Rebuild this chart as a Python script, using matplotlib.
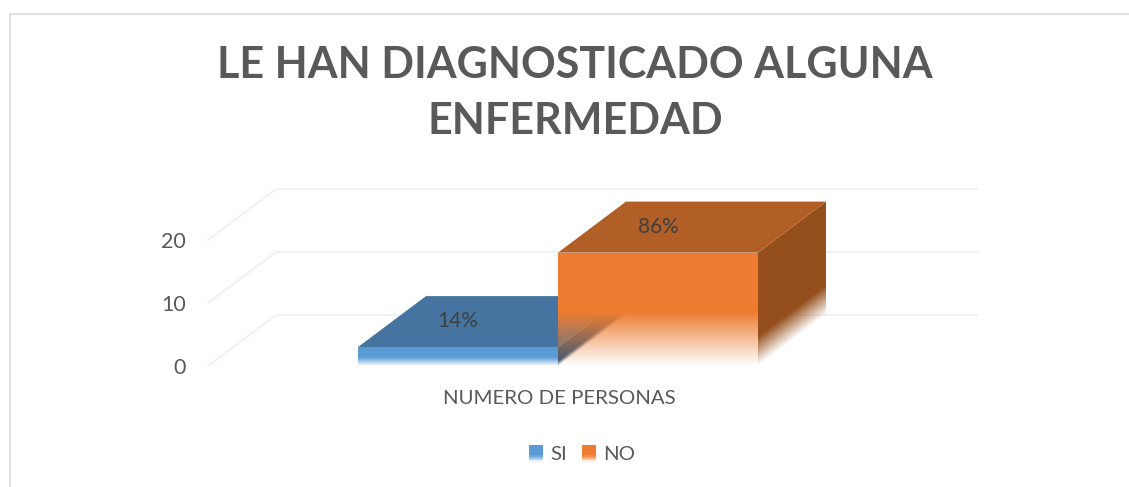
"""Le han diagnosticado alguna enfermedad - fake 3D column chart"""

import numpy as np
import matplotlib.pyplot as plt
from matplotlib.colors import to_rgb
from matplotlib.legend_handler import HandlerBase
from matplotlib.lines import Line2D
from matplotlib.patches import Patch, Polygon, Rectangle

series_names = ['SI', 'NO']
series_values = [3, 18]
series_labels = ['14%', '86%']
category = 'NUMERO DE PERSONAS'
y_ticks = [0, 10, 20]
title = 'LE HAN DIAGNOSTICADO ALGUNA\nENFERMEDAD'

front_colors = ['#5B9BD5', '#EE7D31']
top_colors = ['#44749F', '#B15F26']
side_colors = ['#35597A', '#954F1C']
text_color = '#595959'

W, H = 1129, 487
plt.rcParams['font.family'] = ['Lato', 'DejaVu Sans']

fig = plt.figure(figsize=(W / 100, H / 100), dpi=100)

# border of the chart area, only top and left are inside the crop
fig.add_artist(Line2D([9.5 / W, 9.5 / W, 1], [0, 1 - 13.5 / H, 1 - 13.5 / H], transform=fig.transFigure,
                      color='#d9d9d9', linewidth=1.2))

# axes = front plane of the 3D box
ax = fig.add_axes([208 / W, 1 - 366 / H, 702 / W, 126 / H])

# oblique depth, in data units
dx = 68 / 702
dy = 51 / 6.3


def fade_face(x0, x1, shear, v_top, fade, rgb):
    '''face going from value 0 to v_top, bottom part fades to transparent'''
    t = np.linspace(0, 1, 200)
    v = np.linspace(0, v_top + shear, 800)
    tt, vv = np.meshgrid(t, v)
    img = np.ones((len(v), len(t), 4))
    img[..., :3] = to_rgb(rgb)
    img[..., 3] = np.clip((vv - shear * tt) / fade, 0, 1)
    im = ax.imshow(img, origin='lower', extent=(x0, x1, 0, v_top + shear), aspect='auto',
                   interpolation='bilinear', zorder=3)
    outline = Polygon([(x0, 0), (x1, shear), (x1, v_top + shear), (x0, v_top)], closed=True,
                      transform=ax.transData, facecolor='none', edgecolor='none')
    im.set_clip_path(outline)
    # the faces stick out of the front plane axes
    im.set_clip_box(fig.bbox)


# gridlines on floor / back wall
for t in y_ticks:
    ax.plot([0, dx, 1 + dx], [t, t + dy, t + dy], color='#efefef', linewidth=1.2, zorder=1, clip_on=False)

bar_w = 1 / 3.51
for i, val in enumerate(series_values):
    x0 = 0.75 / 3.51 + i * bar_w
    x1 = x0 + bar_w
    fade_face(x1, x1 + dx, dy, val, 0.26 * val, side_colors[i])
    ax.add_patch(Polygon([(x0, val), (x1, val), (x1 + dx, val + dy), (x0 + dx, val + dy)],
                         closed=True, facecolor=top_colors[i], edgecolor='none', zorder=3, clip_on=False))
    fade_face(x0, x1, 0, val, 0.47 * val, front_colors[i])
    ax.text(x0 + bar_w / 2, val + dy * 0.51, series_labels[i], ha='center', va='center',
            fontsize=15, color='#404040', zorder=5)

ax.set_xlim(0, 1)
ax.set_ylim(0, 20)
for s in ax.spines.values():
    s.set_visible(False)
ax.patch.set_visible(False)
ax.set_yticks(y_ticks)
ax.set_xticks([0.5])
ax.set_xticklabels([category])
ax.tick_params(axis='y', length=0, pad=16, labelsize=15.5, labelcolor=text_color)
ax.tick_params(axis='x', length=0, pad=17, labelsize=14.7, labelcolor=text_color)

fig.text(575 / W, 1 - 93 / H, title, ha='center', va='center', fontsize=31, fontweight='bold',
         color=text_color, linespacing=1.47)


class FadeHandler(HandlerBase):
    '''legend key with the same fade as the bars'''

    def create_artists(self, legend, orig, xd, yd, w, h, fontsize, trans):
        n = 10
        out = []
        for k in range(n):
            a = min(1, (k + 0.5) / (n * 0.4))
            out.append(Rectangle((-xd, -yd + h * k / n), w, h / n * 1.05, facecolor=orig.get_facecolor(),
                                 alpha=a, edgecolor='none', transform=trans))
        return out


handles = [Patch(facecolor=c, label=n) for c, n in zip(front_colors, series_names)]
fig.legend(handles=handles, loc='center', bbox_to_anchor=(582 / W, 1 - 454 / H), ncol=2, frameon=False,
           fontsize=14.7, labelcolor=text_color, handler_map={Patch: FadeHandler()},
           handlelength=0.7, handleheight=0.95, handletextpad=0.35, columnspacing=0.75)

fig.savefig('out.png', dpi=100)
